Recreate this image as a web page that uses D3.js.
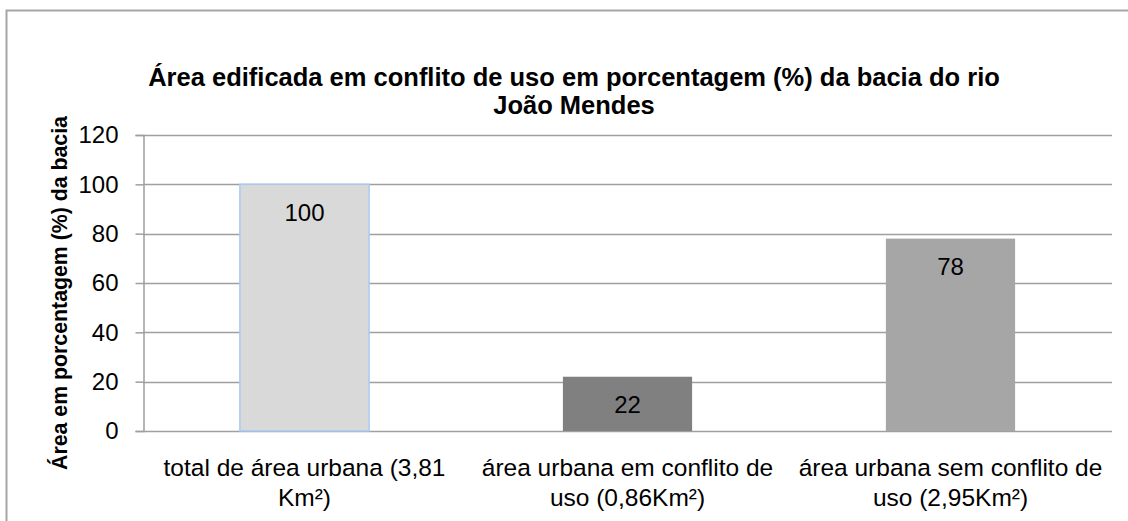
<!DOCTYPE html>
<html>
<head>
<meta charset="utf-8">
<script src="https://cdn.jsdelivr.net/npm/d3@7"></script>
<style>
  html, body { margin: 0; padding: 0; background: #fff; }
  svg { display: block; }
  text { font-family: "Liberation Sans", Arial, sans-serif; fill: #000; }
</style>
</head>
<body>
<svg id="chart" width="1128" height="521"></svg>
<script>
// Built-up area in land-use conflict, as % of the João Mendes river basin
const categories = [
  ["total de área urbana (3,81", "Km²)"],
  ["área urbana em conflito de", "uso (0,86Km²)"],
  ["área urbana sem conflito de", "uso (2,95Km²)"]
];
const values = [100, 22, 78];
const barColors = ["#d9d9d9", "#808080", "#a6a6a6"];
const yTicks = [0, 20, 40, 60, 80, 100, 120];
const titleLines = ["Área edificada em conflito de uso em porcentagem (%) da bacia do rio", "João Mendes"];
const yTitle = "Área em porcentagem (%) da bacia";

const svg = d3.select("#chart");
const W = 1128, H = 521;
const plot = { left: 143, right: 1112, top: 135, bottom: 431 };

// outer chart frame (top and left edges visible)
svg.append("path")
  .attr("d", `M6.5,${H} V10.5 H${W}`)
  .attr("fill", "none")
  .attr("stroke", "#a6a6a6")
  .attr("stroke-width", 2);

const x = d3.scaleBand()
  .domain(d3.range(categories.length))
  .range([plot.left, plot.right])
  .paddingInner(0.6)
  .paddingOuter(0.3);

const y = d3.scaleLinear().domain([0, 120]).range([plot.bottom, plot.top]);

// horizontal gridlines
svg.append("g")
  .selectAll("line")
  .data(yTicks)
  .join("line")
  .attr("x1", plot.left).attr("x2", plot.right)
  .attr("y1", d => Math.round(y(d)) + 0.5).attr("y2", d => Math.round(y(d)) + 0.5)
  .attr("stroke", "#9f9f9f").attr("stroke-width", 1.5);

// y axis with tick marks extending left
const yAxis = d3.axisLeft(y).tickValues(yTicks).tickSize(8).tickPadding(17);
const gy = svg.append("g")
  .attr("transform", `translate(${plot.left + 0.5},0)`)
  .call(yAxis);
gy.select(".domain").attr("stroke", "#9f9f9f").attr("stroke-width", 1.5);
gy.selectAll(".tick line").attr("stroke", "#9f9f9f").attr("stroke-width", 1.5);
gy.selectAll(".tick text")
  .style("font-family", '"Liberation Sans", Arial, sans-serif')
  .attr("font-size", 24).attr("fill", "#000");

// bars
svg.append("g")
  .selectAll("rect")
  .data(values)
  .join("rect")
  .attr("x", (d, i) => x(i))
  .attr("width", x.bandwidth())
  .attr("y", d => y(d))
  .attr("height", d => y(0) - y(d))
  .attr("fill", (d, i) => barColors[i])
  .attr("stroke", (d, i) => i === 0 ? "#a9c9f2" : "none")
  .attr("stroke-width", 1.5);

// data labels inside the top of each bar
svg.append("g")
  .selectAll("text")
  .data(values)
  .join("text")
  .attr("x", (d, i) => x(i) + x.bandwidth() / 2)
  .attr("y", d => y(d) + 28)
  .attr("text-anchor", "middle")
  .attr("dominant-baseline", "central")
  .attr("font-size", 24)
  .text(d => d);

// category labels, two lines each
const cat = svg.append("g")
  .selectAll("text")
  .data(categories)
  .join("text")
  .attr("text-anchor", "middle")
  .attr("font-size", 24.5);
cat.each(function(lines, i) {
  d3.select(this).selectAll("tspan")
    .data(lines)
    .join("tspan")
    .attr("x", x(i) + x.bandwidth() / 2)
    .attr("y", (d, j) => 476 + j * 30)
    .text(d => d);
});

// chart title
svg.append("g")
  .selectAll("text")
  .data(titleLines)
  .join("text")
  .attr("x", 574)
  .attr("y", (d, i) => 86 + i * 28)
  .attr("text-anchor", "middle")
  .attr("font-size", 25.5)
  .attr("font-weight", "bold")
  .text(d => d);

// y axis title
svg.append("text")
  .attr("transform", `translate(67,${(plot.top + plot.bottom) / 2 + 10}) rotate(-90)`)
  .attr("text-anchor", "middle")
  .attr("font-size", 21.3)
  .attr("font-weight", "bold")
  .text(yTitle);
</script>
</body>
</html>
